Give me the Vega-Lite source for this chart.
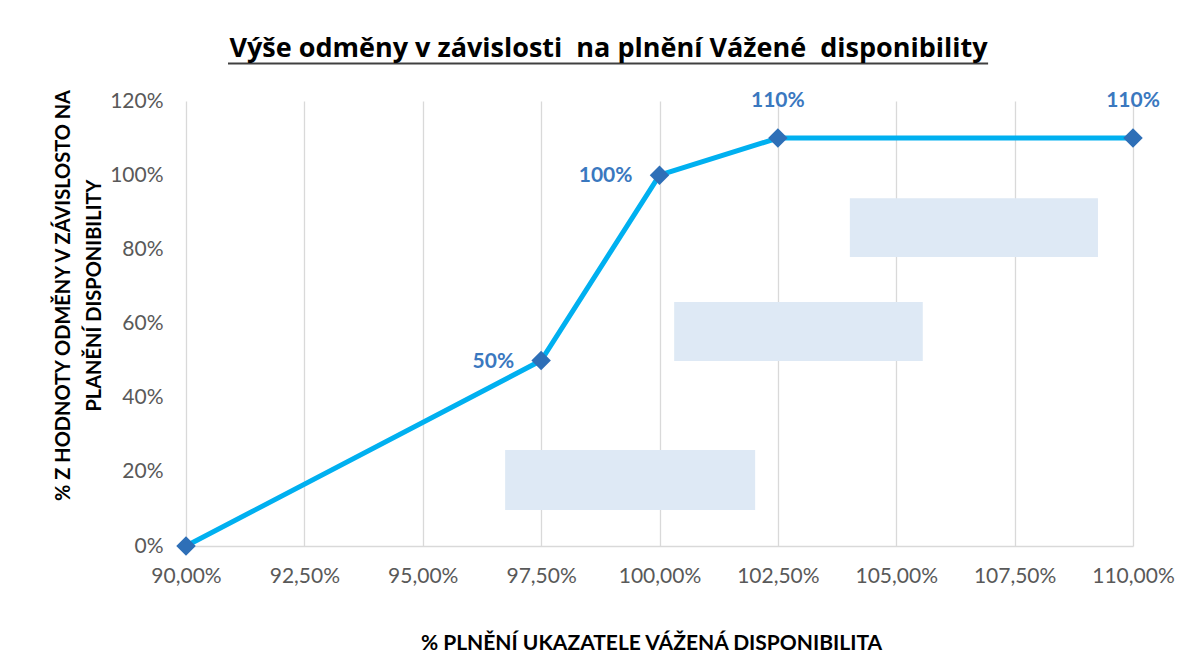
{
  "$schema": "https://vega.github.io/schema/vega-lite/v6.json",
  "autosize": "none",
  "width": 947,
  "height": 445,
  "padding": {"left": 186, "top": 101, "right": 57, "bottom": 112},
  "background": "white",
  "config": {"view": {"stroke": null}, "font": "Lato"},
  "title": {
    "text": "Výše odměny v závislosti\u00a0 na plnění Vážené\u00a0 disponibility",
    "font": "Open Sans",
    "fontSize": 27,
    "fontWeight": "bold",
    "color": "#000000",
    "anchor": "middle",
    "frame": "group",
    "dx": -51,
    "baseline": "alphabetic",
    "offset": -21
  },
  "datasets": {
    "points": [
      {"plneni": 90, "odmena": 0, "label": "", "pos": "none"},
      {"plneni": 97.5, "odmena": 50, "label": "50%", "pos": "left"},
      {"plneni": 100, "odmena": 100, "label": "100%", "pos": "left"},
      {"plneni": 102.5, "odmena": 110, "label": "110%", "pos": "top"},
      {"plneni": 110, "odmena": 110, "label": "110%", "pos": "top"}
    ],
    "boxes": [
      {"x1": 96.74, "x2": 102.02, "y1": 9.7, "y2": 25.9},
      {"x1": 100.31, "x2": 105.56, "y1": 49.9, "y2": 65.8},
      {"x1": 104.02, "x2": 109.26, "y1": 77.9, "y2": 93.8}
    ],
    "underline": [{"from": 90.887, "to": 106.94, "level": 130.1}]
  },
  "layer": [
    {
      "data": {"name": "boxes"},
      "mark": {"type": "rect", "color": "#dee9f5"},
      "encoding": {
        "x": {
          "field": "x1", "type": "quantitative",
          "scale": {"domain": [90, 110], "nice": false, "zero": false},
          "axis": {
            "values": [90, 92.5, 95, 97.5, 100, 102.5, 105, 107.5, 110],
            "labelExpr": "replace(format(datum.value, '.2f'), '.', ',') + '%'",
            "grid": true,
            "gridColor": "#d9d9d9",
            "gridWidth": 1.3,
            "domain": true,
            "domainColor": "#d9d9d9",
            "domainWidth": 1.3,
            "ticks": false,
            "labelPadding": 19,
            "labelFont": "Lato",
            "labelFontSize": 21,
            "labelColor": "#595959",
            "labelFlush": false,
            "title": "% PLNĚNÍ UKAZATELE VÁŽENÁ DISPONIBILITA",
            "titleFont": "Lato",
            "titleFontSize": 21,
            "titleFontWeight": "bold",
            "titleColor": "#000000",
            "titleBaseline": "middle",
            "titleY": 97,
            "titleX": 465
          }
        },
        "x2": {"field": "x2"},
        "y": {
          "field": "y1", "type": "quantitative",
          "scale": {"domain": [0, 120], "nice": false},
          "axis": {
            "values": [0, 20, 40, 60, 80, 100, 120],
            "labelExpr": "datum.value + '%'",
            "grid": false,
            "domain": false,
            "ticks": false,
            "labelPadding": 23,
            "labelFont": "Lato",
            "labelFontSize": 21,
            "labelColor": "#595959",
            "title": ["% Z HODNOTY ODMĚNY V ZÁVISLOSTO NA", "PLANĚNÍ DISPONIBILITY"],
            "titleFont": "Lato",
            "titleFontSize": 20,
            "titleFontWeight": "bold",
            "titleColor": "#000000",
            "titleAngle": -90,
            "titleAlign": "center",
            "titleBaseline": "middle",
            "titleLineHeight": 31,
            "titleX": -123,
            "titleY": 194
          }
        },
        "y2": {"field": "y2"}
      }
    },
    {
      "data": {"name": "underline"},
      "mark": {"type": "rule", "color": "#404040", "strokeWidth": 2},
      "encoding": {
        "x": {"field": "from", "type": "quantitative"},
        "x2": {"field": "to"},
        "y": {"field": "level", "type": "quantitative"}
      }
    },
    {
      "data": {"name": "points"},
      "mark": {"type": "line", "color": "#00b0f0", "strokeWidth": 5},
      "encoding": {
        "x": {"field": "plneni", "type": "quantitative"},
        "y": {"field": "odmena", "type": "quantitative"}
      }
    },
    {
      "data": {"name": "points"},
      "mark": {"type": "point", "shape": "diamond", "filled": true, "size": 380, "color": "#2e6fb7", "opacity": 1},
      "encoding": {
        "x": {"field": "plneni", "type": "quantitative"},
        "y": {"field": "odmena", "type": "quantitative"}
      }
    },
    {
      "data": {"name": "points"},
      "transform": [{"filter": "datum.pos == 'left'"}],
      "mark": {"type": "text", "align": "right", "baseline": "middle", "dx": -27, "dy": 1, "font": "Lato", "fontSize": 21, "fontWeight": "bold", "color": "#3a78bf"},
      "encoding": {
        "x": {"field": "plneni", "type": "quantitative"},
        "y": {"field": "odmena", "type": "quantitative"},
        "text": {"field": "label"}
      }
    },
    {
      "data": {"name": "points"},
      "transform": [{"filter": "datum.pos == 'top'"}],
      "mark": {"type": "text", "align": "center", "baseline": "middle", "dy": -37, "font": "Lato", "fontSize": 21, "fontWeight": "bold", "color": "#3a78bf"},
      "encoding": {
        "x": {"field": "plneni", "type": "quantitative"},
        "y": {"field": "odmena", "type": "quantitative"},
        "text": {"field": "label"}
      }
    }
  ]
}
